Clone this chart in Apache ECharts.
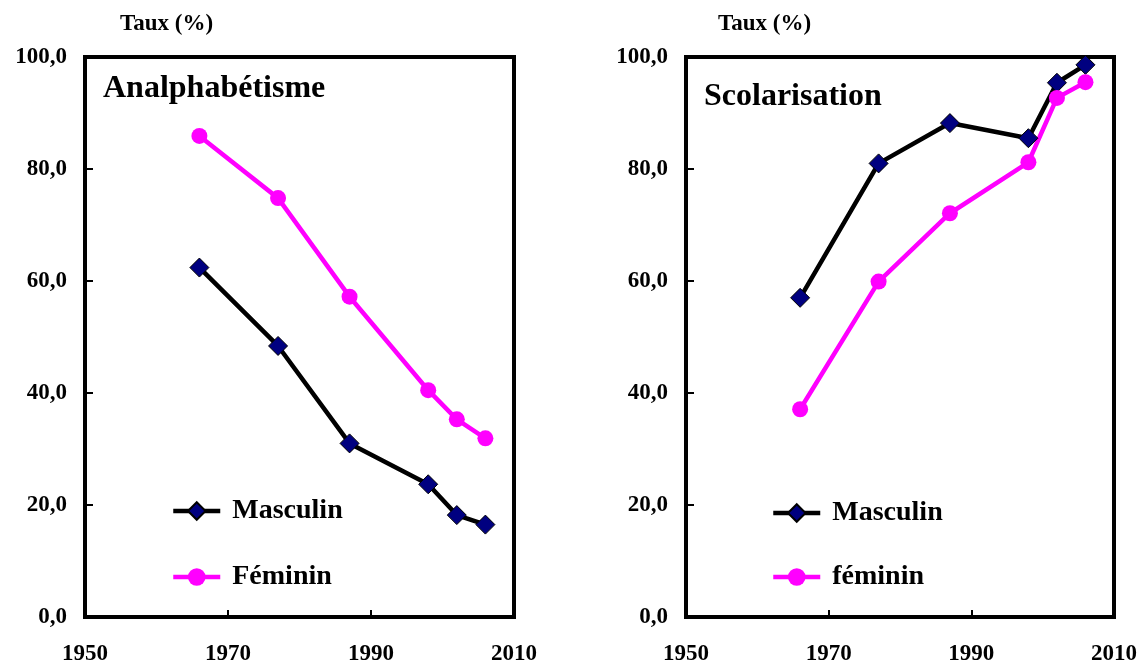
<!DOCTYPE html>
<html>
<head>
<meta charset="utf-8">
<script src="https://cdn.jsdelivr.net/npm/echarts@6/dist/echarts.min.js"></script>
<style>
  html, body { margin: 0; padding: 0; background: #fff; }
  #main { width: 1143px; height: 666px; }
</style>
</head>
<body>
<div id="main"></div>
<script>
// années d'enquête
var years = [1966, 1977, 1987, 1998, 2002, 2006];
// taux d'analphabétisme (%)
var analphaMasc = [62.4, 48.4, 31.0, 23.7, 18.2, 16.5];
var analphaFem = [85.9, 74.8, 57.2, 40.5, 35.3, 31.9];
// taux de scolarisation (%)
var scolMasc = [57.0, 81.0, 88.2, 85.5, 95.4, 98.6];
var scolFem = [37.1, 59.9, 72.1, 81.2, 92.7, 95.5];

var FONT = '"Liberation Serif", "Times New Roman", serif';

function pairs(vals) {
    return years.map(function (y, i) { return [y, vals[i]]; });
}

function xAxe(idx) {
    return {
        type: 'value', gridIndex: idx, min: 1950, max: 2010, interval: 20,
        splitLine: { show: false },
        axisLine: { show: false },
        axisTick: { inside: true, length: 7, lineStyle: { color: '#000', width: 2 } },
        axisLabel: {
            margin: 26, color: '#000', fontFamily: FONT, fontWeight: 'bold', fontSize: 23,
            formatter: function (v) { return String(v); }
        }
    };
}

function yAxe(idx) {
    return {
        type: 'value', gridIndex: idx, min: 0, max: 100, interval: 20,
        splitLine: { show: false },
        axisLine: { show: false },
        axisTick: { inside: true, length: 8, lineStyle: { color: '#000', width: 2 } },
        axisLabel: {
            margin: 18, color: '#000', fontFamily: FONT, fontWeight: 'bold', fontSize: 23,
            formatter: function (v) { return v.toFixed(1).replace('.', ','); }
        }
    };
}

function serieMasc(idx, data) {
    return {
        name: 'Masculin', type: 'line', xAxisIndex: idx, yAxisIndex: idx,
        data: pairs(data),
        symbol: 'diamond', symbolSize: 19,
        lineStyle: { color: '#000', width: 4.5 },
        itemStyle: { color: '#000080', borderColor: '#000', borderWidth: 1 }
    };
}

function serieFem(idx, name, data) {
    return {
        name: name, type: 'line', xAxisIndex: idx, yAxisIndex: idx,
        data: pairs(data),
        symbol: 'circle', symbolSize: 16,
        lineStyle: { color: '#ff00ff', width: 4.5 },
        itemStyle: { color: '#ff00ff' }
    };
}

function legende(left, top, gap, names) {
    return {
        orient: 'vertical', left: left, top: top, itemGap: gap,
        itemWidth: 47, itemHeight: 22, padding: 0,
        data: names,
        lineStyle: { width: 4.5 },
        textStyle: { color: '#000', fontFamily: FONT, fontWeight: 'bold', fontSize: 28, lineHeight: 30, padding: [0, 0, 0, 7] }
    };
}

function titre(text, left, top, size) {
    return {
        text: text, left: left, top: top, padding: 0,
        textStyle: { color: '#000', fontFamily: FONT, fontWeight: 'bold', fontSize: size }
    };
}

var myChart = echarts.init(document.getElementById('main'));
myChart.setOption({
    backgroundColor: '#fff',
    animation: false,
    title: [
        titre('Taux (%)', 120, 13, 23),
        titre('Taux (%)', 718, 13, 23),
        titre('Analphabétisme', 103, 73, 32),
        titre('Scolarisation', 704, 81, 32)
    ],
    legend: [
        legende(171, 496, 36, ['Masculin', 'Féminin']),
        legende(771, 498, 34, ['Masculin', 'féminin'])
    ],
    grid: [
        { left: 85, top: 57, width: 429, height: 560, show: true, borderColor: '#000', borderWidth: 4, backgroundColor: '#fff' },
        { left: 686, top: 57, width: 428, height: 560, show: true, borderColor: '#000', borderWidth: 4, backgroundColor: '#fff' }
    ],
    xAxis: [xAxe(0), xAxe(1)],
    yAxis: [yAxe(0), yAxe(1)],
    series: [
        serieMasc(0, analphaMasc),
        serieFem(0, 'Féminin', analphaFem),
        serieMasc(1, scolMasc),
        serieFem(1, 'féminin', scolFem)
    ]
});
</script>
</body>
</html>
